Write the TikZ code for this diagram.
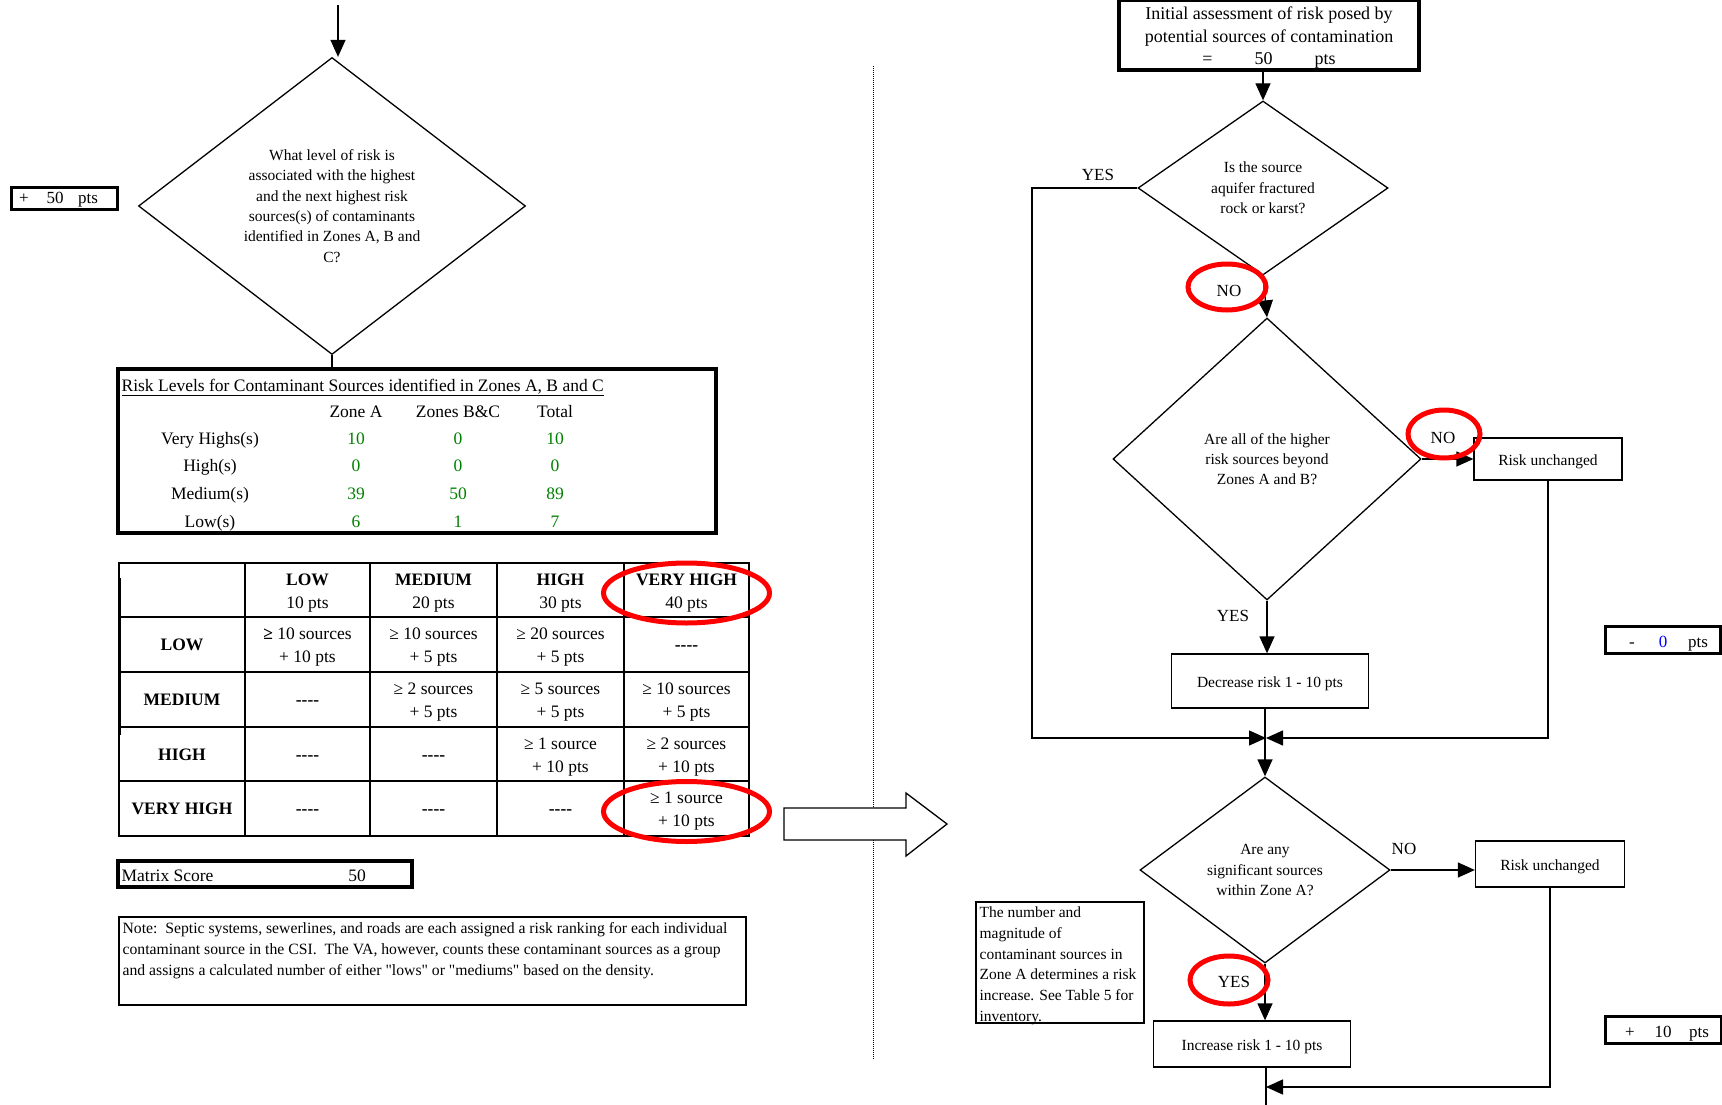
\documentclass[tikz,border=0pt]{standalone}
\usepackage{fontspec}
\setmainfont{Liberation Serif}
\newfontfamily\notefont{Liberation Serif}[Ligatures=TeXOff]
\usepackage[dvipsnames]{xcolor}
\usetikzlibrary{shapes.geometric,arrows.meta}
\definecolor{valgreen}{RGB}{0,128,0}
\definecolor{valblue}{RGB}{0,0,255}
\newcommand{\cellnone}{\textbf{-{}-{}-{}-}}

\begin{document}
\begin{tikzpicture}[x=1pt,y=-1pt,>={Triangle[width=15pt,length=17pt]},line width=1.3pt,
    q node/.style={diamond,draw,inner sep=0pt,align=center,font=\fontsize{15.5}{20.3}\selectfont},
    box node/.style={rectangle,draw,inner sep=0pt,align=center,text height=12.5pt,text depth=0pt,font=\fontsize{15.5}{20}\selectfont},
    answer node/.style={inner sep=0pt,text height=12pt,text depth=4pt,font=\fontsize{17}{20}\selectfont},
    pts node/.style={rectangle,draw,line width=3pt,inner sep=0pt},
    cell node/.style={inner sep=0pt,align=center,font=\fontsize{17.5}{23}\selectfont},
    none node/.style={cell node,yshift=-4pt},
    table node/.style={inner sep=0pt,text height=13pt,text depth=4pt,font=\fontsize{17.5}{22}\selectfont},
    ring/.style={red,line width=5pt}]

            \useasboundingbox (0,0) rectangle (1722,1105);

            % left: first question
            \coordinate (1) at (338,5);
            \node[q node, minimum width=387pt, minimum height=297pt] (2) at (332,206) {What level of risk is\\associated with the highest\\and the next highest risk\\sources(s) of contaminants\\identified in Zones A, B and\\C?};
            \node[pts node, minimum width=106pt, minimum height=22pt] (3) at (64,198) {};
            \node[answer node] (4) at (24,199.5) {+};
            \node[answer node] (5) at (55,199.5) {50};
            \node[answer node] (6) at (88,199.5) {pts};

            \draw[->] (1) -- (1 |- 2.north);

            % risk level counts
            \node[pts node, line width=3.5pt, minimum width=598pt, minimum height=164pt] (7) at (417,451) {};
            \draw (2.south) -- (2.south |- 7.north);
            \node[table node, anchor=west] (8) at (121,387) {\underline{Risk Levels for Contaminant Sources identified in Zones A, B and C}};
            \node[table node] (9) at (356,412.5) {Zone A};
            \node[table node] (10) at (458,412.5) {Zones B\&C};
            \node[table node] (11) at (555,412.5) {Total};
            \node[table node] (12) at (210,439.5) {Very Highs(s)};
            \node[table node] (13) at (210,467) {High(s)};
            \node[table node] (14) at (210,495) {Medium(s)};
            \node[table node] (15) at (210,523) {Low(s)};
            \node[table node, valgreen] (16) at (356,439.5) {10};
            \node[table node, valgreen] (17) at (458,439.5) {0};
            \node[table node, valgreen] (18) at (555,439.5) {10};
            \node[table node, valgreen] (19) at (356,467) {0};
            \node[table node, valgreen] (20) at (458,467) {0};
            \node[table node, valgreen] (21) at (555,467) {0};
            \node[table node, valgreen] (22) at (356,495) {39};
            \node[table node, valgreen] (23) at (458,495) {50};
            \node[table node, valgreen] (24) at (555,495) {89};
            \node[table node, valgreen] (25) at (356,523) {6};
            \node[table node, valgreen] (26) at (458,523) {1};
            \node[table node, valgreen] (27) at (555,523) {7};

            % risk matrix
            \draw (119,563) rectangle (749,836);
            \draw (245,563) -- (245,836) (370,563) -- (370,836) (497,563) -- (497,836) (624,563) -- (624,836);
            \draw (119,617) -- (749,617) (119,672) -- (749,672) (119,727) -- (749,727) (119,781) -- (749,781);
            \draw[line width=3pt] (119,578) -- (119,735);

            \node[cell node] (28) at (307.5,593) {\textbf{LOW}\\10 pts};
            \node[cell node] (29) at (433.5,593) {\textbf{MEDIUM}\\20 pts};
            \node[cell node] (30) at (560.5,593) {\textbf{HIGH}\\30 pts};
            \node[cell node] (31) at (686.5,593) {\textbf{VERY HIGH}\\40 pts};
            \node[cell node] (32) at (182,645) {\textbf{LOW}};
            \node[cell node] (33) at (307.5,647.5) {\textbf{≥} 10 sources\\+ 10 pts};
            \node[cell node] (34) at (433.5,647.5) {≥ 10 sources\\+ 5 pts};
            \node[cell node] (35) at (560.5,647.5) {≥ 20 sources\\+ 5 pts};
            \node[none node] (36) at (686.5,644.5) {\cellnone};
            \node[cell node] (37) at (182,700) {\textbf{MEDIUM}};
            \node[none node] (38) at (307.5,699.5) {\cellnone};
            \node[cell node] (39) at (433.5,702.5) {≥ 2 sources\\+ 5 pts};
            \node[cell node] (40) at (560.5,702.5) {≥ 5 sources\\+ 5 pts};
            \node[cell node] (41) at (686.5,702.5) {≥ 10 sources\\+ 5 pts};
            \node[cell node] (42) at (182,754.5) {\textbf{HIGH}};
            \node[none node] (43) at (307.5,754) {\cellnone};
            \node[none node] (44) at (433.5,754) {\cellnone};
            \node[cell node] (45) at (560.5,757) {≥ 1 source\\+ 10 pts};
            \node[cell node] (46) at (686.5,757) {≥ 2 sources\\+ 10 pts};
            \node[cell node] (47) at (182,809) {\textbf{VERY HIGH}};
            \node[none node] (48) at (307.5,808.5) {\cellnone};
            \node[none node] (49) at (433.5,808.5) {\cellnone};
            \node[none node] (50) at (560.5,808.5) {\cellnone};
            \node[cell node] (51) at (686.5,811.5) {≥ 1 source\\+ 10 pts};

            \draw[ring] (31) ellipse [x radius=83, y radius=30];
            \draw[ring] (51) ellipse [x radius=83, y radius=30];

            % score and note
            \node[pts node, line width=3.5pt, minimum width=294pt, minimum height=26pt] (52) at (265,874) {};
            \node[table node, anchor=west] (53) at (121,876.5) {Matrix Score};
            \node[table node] (54) at (357,876.5) {50};
            \node[rectangle, draw, line width=1.2pt, minimum width=627pt, minimum height=88pt] (55) at (432.5,961) {};
            \node[inner sep=0pt, anchor=north west, align=left, font=\notefont\fontsize{15.7}{20.7}\selectfont] (56) at (122,922) {Note:\ \ Septic systems, sewerlines, and roads are each assigned a risk ranking for each individual\\contaminant source in the CSI.\ \ The VA, however, counts these contaminant sources as a group\\and assigns a calculated number of either "lows" or "mediums" based on the density.};

            % divider and big arrow
            \draw[densely dotted, line width=1pt] (873,66) -- (873,1060);
            \draw[fill=white] (784,808) -- (906,808) -- (906,793) -- (947,824) -- (906,856) -- (906,840) -- (784,840) -- cycle;

            % right: flow chart
            \node[pts node, line width=3.5pt, minimum width=300pt, minimum height=70pt] (57) at (1269,35) {};
            \node[inner sep=0pt, align=center, font=\fontsize{18}{22.5}\selectfont] (85) at (1269,38) {Initial assessment of risk posed by\\potential sources of contamination\\=\hspace{42pt}50\hspace{42pt}pts};
            \node[q node, minimum width=250pt, minimum height=174pt] (58) at (1263,188) {Is the source\\aquifer fractured\\rock or karst?};
            \node[q node, minimum width=308pt, minimum height=282pt] (59) at (1267,459) {Are all of the higher\\risk sources beyond\\Zones A and B?};
            \node[box node, minimum width=148pt, minimum height=42pt] (60) at (1548,459) {Risk unchanged};
            \node[box node, minimum width=197pt, minimum height=54pt] (61) at (1270,681) {Decrease risk 1 - 10 pts};
            \coordinate (62) at (1266,738);
            \coordinate (63) at (1032,188);
            \node[q node, minimum width=250pt, minimum height=186pt] (64) at (1265,870) {Are any\\significant sources\\within Zone A?};
            \node[box node, minimum width=149pt, minimum height=46pt] (65) at (1550,864) {Risk unchanged};
            \node[box node, minimum width=197pt, minimum height=46pt] (66) at (1252,1044) {Increase risk 1 - 10 pts};
            \coordinate (67) at (1266,1087);
            \coordinate (68) at (1266,1105);
            \node[rectangle, draw, line width=1.2pt, minimum width=168pt, minimum height=121pt] (69) at (1060,962.5) {};
            \node[inner sep=0pt, anchor=north west, align=left, font=\fontsize{15.5}{20.8}\selectfont] (70) at (979,906) {The number and\\magnitude of\\contaminant sources in\\Zone A determines a risk\\increase. See Table 5 for\\inventory.};

            \node[answer node] (71) at (1098,176) {YES};
            \node[answer node] (72) at (1229,292) {NO};
            \node[answer node] (73) at (1443,439) {NO};
            \node[answer node] (74) at (1233,617) {YES};
            \node[answer node] (75) at (1404,850) {NO};
            \node[answer node] (76) at (1234,983) {YES};

            \draw[->] (57.south -| 58.north) -- (58.north);
            \draw[->] (58.south) -- (59.north);
            \draw[->] (58.west) -- (63) |- (62);
            \draw[->] (59.east) -- (60.west);
            \draw[->] (60.south) |- (62);
            \draw[->] (59.south) -- (59.south |- 61.north);
            \draw[->] (61.south -| 64.north) -- (64.north);
            \draw[->] (64.east) -- (64.east -| 65.west);
            \draw[->] (64.south) -- (64.south |- 66.north);
            \draw (66.south -| 68) -- (68);
            \draw[->] (65.south) |- (67);

            \draw[ring] (1227,287) ellipse [x radius=39, y radius=23];
            \draw[ring] (1444,434) ellipse [x radius=36, y radius=24];
            \draw[ring] (1229,980) ellipse [x radius=39, y radius=24];

            % points boxes
            \node[pts node, minimum width=115pt, minimum height=27pt] (77) at (1662.5,639.5) {};
            \node[answer node] (78) at (1632,643) {-};
            \node[answer node, valblue] (79) at (1663,643) {0};
            \node[answer node] (80) at (1698,643) {pts};
            \node[pts node, minimum width=116pt, minimum height=27pt] (81) at (1663,1029.5) {};
            \node[answer node] (82) at (1630,1033) {+};
            \node[answer node] (83) at (1663,1033) {10};
            \node[answer node] (84) at (1699,1033) {pts};

            ;
        \end{tikzpicture}
\end{document}
